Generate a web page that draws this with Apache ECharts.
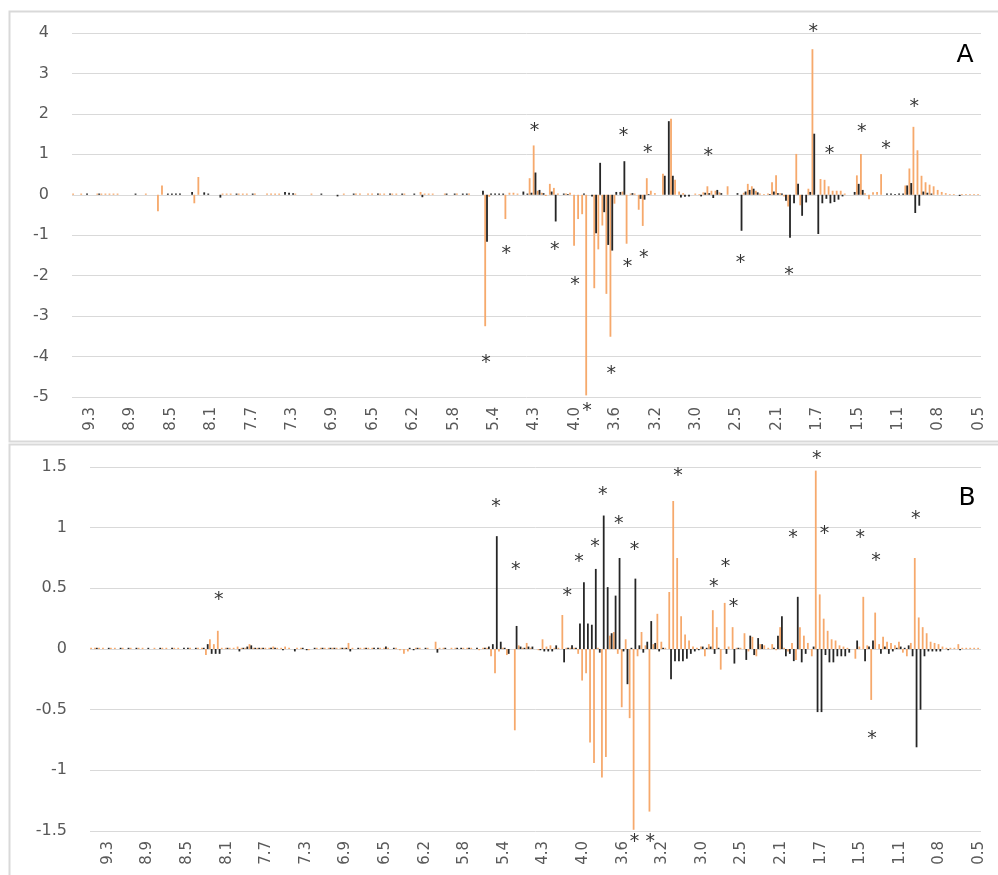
<!DOCTYPE html>
<html><head><meta charset="utf-8">
<script src="https://cdn.jsdelivr.net/npm/echarts@6/dist/echarts.min.js"></script>
<style>html,body{margin:0;padding:0;background:#fff}#c{width:998px;height:875px}</style>
</head><body><div id="c"></div>
<script>
// ---- data ----
const tickLabels = ['9.3','8.9','8.5','8.1','7.7','7.3','6.9','6.5','6.2','5.8','5.4','4.3','4.0','3.6','3.2','3.0','2.5','2.1','1.7','1.5','1.1','0.8','0.5'];
const binCount = 225, tickStart = 4, tickStep = 10;

const orangeA = [
0.03,0,0.03,0,0,0,0.03,0.03,0.03,0.03,
0.03,0.03,0,0,0,0,0,0,0.03,0,
0,-0.41,0.23,0,0,0,0,0,0,0,
-0.21,0.44,0,0,0,0,0,0.03,0.03,0.03,
0,0.03,0.03,0.03,0,0.03,0,0,0.03,0.03,
0.03,0.03,0,0,0,0.03,0,0,0,0.03,
0,0,0,0,0,0,0,0.03,0,0,
0.03,0.03,0,0.03,0.03,0,0.03,0.03,0,0.03,
0.03,0,0.03,0,0,0,0.07,0.03,0.03,0.03,
0,0,0.03,0,0,0.03,0,0,0.03,0,
0,0,-3.25,-0.05,0,0,0,-0.6,0.05,0.05,
0.03,0,0,0.41,1.22,0.1,0.05,-0.03,0.27,0.17,
0.03,0,0.03,0.05,-1.26,-0.6,-0.48,-4.96,0,-2.31,
-1.35,-0.76,-2.45,-3.51,-0.22,0,0.08,-1.21,0.03,0.03,
-0.37,-0.77,0.41,0.1,0.04,0,0.52,0,1.88,0.37,
0.08,0.04,0,0,0.03,0.02,0.06,0.21,0.1,0.1,
0.06,0,0.21,0,0,0,0.05,0.27,0.21,0.1,
0.03,0.02,0.03,0.31,0.48,0.04,-0.04,-0.29,0,1.01,
-0.26,0,0.15,3.6,0,0.39,0.37,0.21,0.1,0.1,
0.1,0.03,0,0,0.48,1.01,0.04,-0.11,0.06,0.07,
0.51,0,0,0,0,0,0.23,0.65,1.68,1.1,
0.47,0.31,0.25,0.21,0.12,0.07,0.04,0.02,0.02,0,
0.02,0.02,0.02,0.02,0.02];

const blackA = [
0,0,0,0.03,0,0,0.03,0,0,0,
0,0,0,0,0,0.03,0,0,0,0,
0,0,0,0.03,0.03,0.03,0.03,0,0,0.07,
0,0,0.06,0.03,0,0,-0.07,0,0,0,
0.03,0,0,0,0.03,0,0,0,0,0,
0,0,0.07,0.05,0.04,0,0,0,0,0,
0,0.03,0,0,0,-0.04,0,0,0,0.03,
0,0,0,0,0,0.03,0,0,0.03,0,
0,0.03,0,0,0.03,0,-0.06,0,0,0,
0,0,0.03,0,0.03,0,0.03,0.03,0,0,
0,0.1,-1.16,0.03,0.03,0.03,0.03,0,0,0,
0,0.08,0.03,0.05,0.55,0.12,0.04,0,0.08,-0.66,
0,0.03,0.02,0,0,0,0.03,0,-0.04,-0.95,
0.79,-0.43,-1.24,-1.38,0.07,0.07,0.83,0,0.04,0,
-0.1,-0.12,0.02,0,0,0,0.47,1.82,0.47,0,
-0.07,-0.05,-0.04,0,0,-0.04,0.05,0.04,-0.08,0.12,
0.04,0,0,0,0.04,-0.89,0.08,0.12,0.15,0.06,
0,0,0.02,0.08,0.04,0.03,-0.15,-1.06,-0.21,0.27,
-0.52,-0.19,0.07,1.51,-0.97,-0.21,-0.1,-0.21,-0.18,-0.12,
-0.04,0,0,0.07,0.27,0.12,0,0,0,0,
0,0.03,0.03,0.02,0.03,0.03,0.23,0.29,-0.45,-0.27,
0.08,0.05,0.03,0,0,0,0,0,0,-0.03,
0,0,0,0,0];

const orangeB = [
0.01,0.01,0.01,0.01,0,0.01,0.01,0,0.01,0,
0.01,0,0.01,0.01,0,0,0.01,0,0.01,0.01,
0,0.01,0.01,0,0,0.01,0,0.01,0.01,-0.05,
0.08,0.04,0.15,0.01,0.01,0.01,0.01,0.02,0.01,0.01,
0.04,0.01,0.01,0.01,0.01,0.01,0.02,0.01,0.01,0.02,
0.01,0,0.01,0.01,0,-0.01,0,0.01,0.01,0.01,
0.01,0.01,0.01,0.01,0.01,0.05,0.01,0,0.01,0.01,
0.01,0.01,0,0.01,0.01,0.01,0,0.01,-0.01,-0.04,
-0.02,0,0.01,0.01,0,0.01,0,0.06,0.01,0.01,
0,0.01,0.01,0,0.01,0.01,0.01,0,-0.01,0.01,
0.01,-0.06,-0.2,-0.02,0.01,-0.05,0,-0.67,0.03,0.01,
0.05,0.01,0,-0.01,0.08,0.02,0.03,0.01,0.01,0.28,
0.01,0.01,0.01,-0.04,-0.26,-0.2,-0.77,-0.94,0.01,-1.06,
-0.89,0.11,0.14,-0.04,-0.48,0.08,-0.57,-1.49,-0.06,0.14,
0.03,-1.34,0.04,0.29,0.06,0.01,0.47,1.22,0.75,0.27,
0.12,0.07,0.02,0.01,0.02,-0.06,0.04,0.32,0.18,-0.17,
0.38,0.02,0.18,0.01,0.01,0.13,-0.02,0.1,-0.06,0.04,
0.03,0.01,0.04,-0.01,0.18,0.01,-0.02,0.05,-0.09,0.18,
0.11,0.05,-0.06,1.47,0.45,0.25,0.15,0.08,0.07,0.03,
0.02,0.01,0,-0.08,0.02,0.43,0.03,-0.42,0.3,0.04,
0.1,0.06,0.05,0.03,0.06,-0.03,-0.06,0.05,0.75,0.26,
0.18,0.13,0.06,0.05,0.04,0.02,0.01,0.01,0.01,0.04,
0.01,0.01,0.01,0.01,0.01];

const blackB = [
0,0.01,0,0,0.01,0,0,0.01,0,0.01,
0,0.01,0,0,0.01,0,0,0.01,0,0,
0.01,0,0,0.01,0.01,0,0.01,0,0.01,0.04,
-0.04,-0.04,-0.04,0,0.01,0,0,-0.02,0.01,0.02,
0.03,0.01,0.01,0.01,0,0.01,0.01,0,-0.01,0,
0,-0.02,0,0.01,-0.01,0,0.01,0,0.01,0,
0.01,0.01,0,0.01,0.01,-0.02,0,0.01,0,0.01,
0,0.01,0.01,0,0.02,0,0.01,0,0,0,
0.01,-0.01,0.01,0,0.01,0,0,-0.03,0,0.01,
0,0,0.01,0.01,0,0.01,0,0.01,0,0.01,
0.02,0.04,0.93,0.06,0.01,-0.04,0,0.19,0.02,0.01,
0.02,0.02,0,-0.01,-0.02,-0.02,-0.02,0.03,0,-0.11,
0.01,0.03,0.01,0.21,0.55,0.21,0.2,0.66,-0.03,1.1,
0.51,0.13,0.44,0.75,-0.02,-0.29,0.01,0.58,0.03,-0.03,
0.06,0.23,0.05,-0.02,0.01,0,-0.25,-0.1,-0.1,-0.1,
-0.08,-0.04,-0.02,-0.01,0.02,0.01,0.02,-0.04,0.01,0,
-0.04,0,-0.12,0.01,0,-0.09,0.11,-0.05,0.09,0.04,
0,0,0.01,0.11,0.27,-0.06,-0.04,-0.1,0.43,-0.11,
-0.04,0,0.02,-0.52,-0.52,-0.05,-0.11,-0.11,-0.06,-0.06,
-0.06,-0.03,0,0.07,0,-0.1,0.02,0.07,0,-0.04,
0.02,-0.04,-0.02,0.01,0.02,0.01,0.03,-0.06,-0.81,-0.5,
-0.06,-0.02,-0.02,-0.02,-0.02,0,-0.01,0,0,-0.01,
0,0,0,0,0];

// significance markers: [bin index, value]
const starsA = [[102,-4.06],[107,-1.36],[114,1.68],[119,-1.26],[124,-2.13],[127,-5.25],[133,-4.33],[136,1.56],[137,-1.68],[142,1.14],[141,-1.46],[157,1.06],[165,-1.58],[177,-1.88],[183,4.11],[187,1.11],[195,1.66],[201,1.24],[208,2.28]];
const starsB = [[32,0.44],[102,1.2],[107,0.68],[120,0.47],[123,0.75],[127,0.87],[129,1.3],[133,1.06],[137,0.85],[137,-1.56],[141,-1.56],[148,1.46],[157,0.54],[160,0.71],[162,0.38],[177,0.95],[183,1.6],[185,0.98],[194,0.95],[198,0.76],[197,-0.71],[208,1.1]];
const panelNames = ['A','B'];

// ---- chart ----
const categories = Array.from({length: binCount}, (_, i) =>
  (i >= tickStart && (i - tickStart) % tickStep === 0) ? tickLabels[(i - tickStart) / tickStep] : '');

const ORANGE = '#F6A96C', BLACK = '#262626', GRID = '#d9d9d9', TXT = '#595959';
const FONT = 'DejaVu Sans';

const grids = [
  {left: 72, right: 17, top: 33, height: 364, containLabel: false, outerBoundsMode: 'none'},
  {left: 90, right: 17, top: 467, height: 364, containLabel: false, outerBoundsMode: 'none'}
];
const yRanges = [{min: -5, max: 4, interval: 1}, {min: -1.5, max: 1.5, interval: 0.5}];

const xAxes = [], yAxes = [], series = [];
[0,1].forEach(p => {
  xAxes.push({
    type: 'category', gridIndex: p, data: categories, boundaryGap: true,
    axisLine: {show: false, onZero: false}, axisTick: {show: false}, splitLine: {show: false},
    axisLabel: {interval: (idx) => idx >= tickStart && (idx - tickStart) % tickStep === 0,
      rotate: 90, margin: 10, color: TXT, fontSize: 15, fontFamily: FONT}
  });
  yAxes.push({
    type: 'value', gridIndex: p, min: yRanges[p].min, max: yRanges[p].max, interval: yRanges[p].interval,
    axisLine: {show: false, onZero: false}, axisTick: {show: false},
    splitLine: {lineStyle: {color: GRID, width: 1}},
    axisLabel: {color: TXT, fontSize: 16, fontFamily: FONT, margin: 23}
  });
});

const barData = [[orangeA, blackA], [orangeB, blackB]];
const starData = [starsA, starsB];
[0,1].forEach(p => {
  series.push({type: 'bar', xAxisIndex: p, yAxisIndex: p, data: barData[p][0],
    itemStyle: {color: ORANGE}, barGap: '0%', barCategoryGap: '10%'});
  series.push({type: 'bar', xAxisIndex: p, yAxisIndex: p, data: barData[p][1],
    itemStyle: {color: BLACK}, barGap: '0%', barCategoryGap: '10%'});
  series.push({type: 'scatter', xAxisIndex: p, yAxisIndex: p, data: starData[p],
    symbol: 'circle', symbolSize: 2, itemStyle: {color: 'rgba(0,0,0,0)'}, clip: false, z: 5,
    label: {show: true, position: 'inside', formatter: '*', color: '#000',
      fontSize: 19, fontFamily: FONT, offset: [0, 4]}});
});

const chart = echarts.init(document.getElementById('c'), null, {renderer: 'canvas'});
chart.setOption({
  animation: false,
  backgroundColor: '#fff',
  grid: grids,
  xAxis: xAxes,
  yAxis: yAxes,
  series: series,
  graphic: [
    {type: 'rect', shape: {x: 9.5, y: 11.5, width: 1000, height: 430}, style: {fill: null, stroke: GRID, lineWidth: 2}, z: -1},
    {type: 'rect', shape: {x: 9.5, y: 444.5, width: 1000, height: 440}, style: {fill: null, stroke: GRID, lineWidth: 2}, z: -1},
    {type: 'text', x: 965, y: 55, style: {text: panelNames[0], font: '25px "DejaVu Sans"', fill: '#000', align: 'center', verticalAlign: 'middle'}},
    {type: 'text', x: 967, y: 498, style: {text: panelNames[1], font: '25px "DejaVu Sans"', fill: '#000', align: 'center', verticalAlign: 'middle'}}
  ]
});
</script></body></html>
